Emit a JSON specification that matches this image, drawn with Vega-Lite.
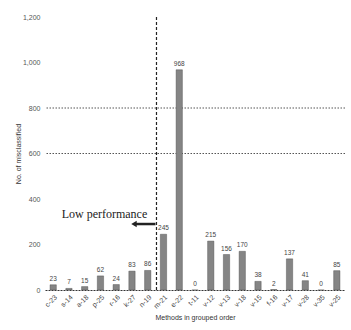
{
  "$schema": "https://vega.github.io/schema/vega-lite/v6.json",
  "width": 300,
  "height": 273,
  "autosize": "none",
  "padding": {"left": 45, "top": 17, "right": 6, "bottom": 40},
  "config": {
    "view": {"stroke": null},
    "font": "Liberation Sans"
  },
  "datasets": {
    "bars": [
      {"method": "c-23", "count": 23},
      {"method": "s-14", "count": 7},
      {"method": "a-18", "count": 15},
      {"method": "p-25", "count": 62},
      {"method": "r-16", "count": 24},
      {"method": "k-27", "count": 83},
      {"method": "n-19", "count": 86},
      {"method": "m-21", "count": 245},
      {"method": "e-22", "count": 968},
      {"method": "t-11", "count": 0},
      {"method": "v-12", "count": 215},
      {"method": "v-13", "count": 156},
      {"method": "v-18", "count": 170},
      {"method": "v-15", "count": 38},
      {"method": "f-16", "count": 2},
      {"method": "v-17", "count": 137},
      {"method": "v-28", "count": 41},
      {"method": "v-35", "count": 0},
      {"method": "v-25", "count": 85}
    ],
    "grid": [{"y": 600}, {"y": 800}],
    "cut": [{"method": "m-21"}],
    "note": [{"method": "p-25", "y": 335, "label": "Low performance"}],
    "arrow": [{"from": "k-27", "to": "m-21", "y": 290}]
  },
  "layer": [
    {
      "data": {"name": "grid"},
      "mark": {"type": "rule", "color": "#555", "strokeDash": [1.5, 1.5], "strokeWidth": 1},
      "encoding": {
        "y": {"field": "y", "type": "quantitative", "scale": {"domain": [0, 1200]}}
      }
    },
    {
      "data": {"name": "bars"},
      "mark": {"type": "bar", "color": "#858585", "stroke": "#444", "strokeWidth": 0.4},
      "encoding": {
        "x": {
          "field": "method", "type": "nominal", "sort": null,
          "scale": {"paddingInner": 0.6, "paddingOuter": 0.32},
          "axis": {
            "title": "Methods in grouped order",
            "titleFontSize": 7, "titleColor": "#333", "titleFontWeight": "normal",
            "titlePadding": 4,
            "labelAngle": -45, "labelFontSize": 7, "labelColor": "#444",
            "ticks": false, "labelPadding": 3,
            "domainColor": "#333", "domainDash": [2, 1], "domainWidth": 1
          }
        },
        "y": {
          "field": "count", "type": "quantitative",
          "scale": {"domain": [0, 1200]},
          "axis": {
            "title": "No. of misclassified",
            "titleFontSize": 7, "titleColor": "#333", "titleFontWeight": "normal",
            "titlePadding": 1,
            "values": [0, 200, 400, 600, 800, 1000, 1200],
            "grid": false, "domain": false, "ticks": false,
            "labelFontSize": 7, "labelColor": "#555", "labelPadding": 5
          }
        }
      }
    },
    {
      "data": {"name": "bars"},
      "mark": {"type": "text", "fontSize": 6.5, "color": "#444", "dy": -6},
      "encoding": {
        "x": {"field": "method", "type": "nominal", "sort": null},
        "y": {"field": "count", "type": "quantitative"},
        "text": {"field": "count", "type": "quantitative"}
      }
    },
    {
      "data": {"name": "cut"},
      "mark": {"type": "rule", "color": "#222", "strokeDash": [3, 2], "strokeWidth": 1.2, "xOffset": -7},
      "encoding": {
        "x": {"field": "method", "type": "nominal", "sort": null}
      }
    },
    {
      "data": {"name": "note"},
      "mark": {"type": "text", "font": "Liberation Serif", "fontSize": 12, "color": "#222", "dx": 4},
      "encoding": {
        "x": {"field": "method", "type": "nominal", "sort": null},
        "y": {"field": "y", "type": "quantitative"},
        "text": {"field": "label"}
      }
    },
    {
      "data": {"name": "arrow"},
      "mark": {"type": "rule", "color": "#222", "strokeWidth": 2.5, "x2Offset": -8, "xOffset": 3},
      "encoding": {
        "x": {"field": "from", "type": "nominal", "sort": null},
        "x2": {"field": "to"},
        "y": {"field": "y", "type": "quantitative"}
      }
    },
    {
      "data": {"name": "arrow"},
      "mark": {"type": "point", "shape": "triangle-left", "filled": true, "color": "#222", "size": 40, "opacity": 1, "xOffset": 2},
      "encoding": {
        "x": {"field": "from", "type": "nominal", "sort": null},
        "y": {"field": "y", "type": "quantitative"}
      }
    }
  ]
}
